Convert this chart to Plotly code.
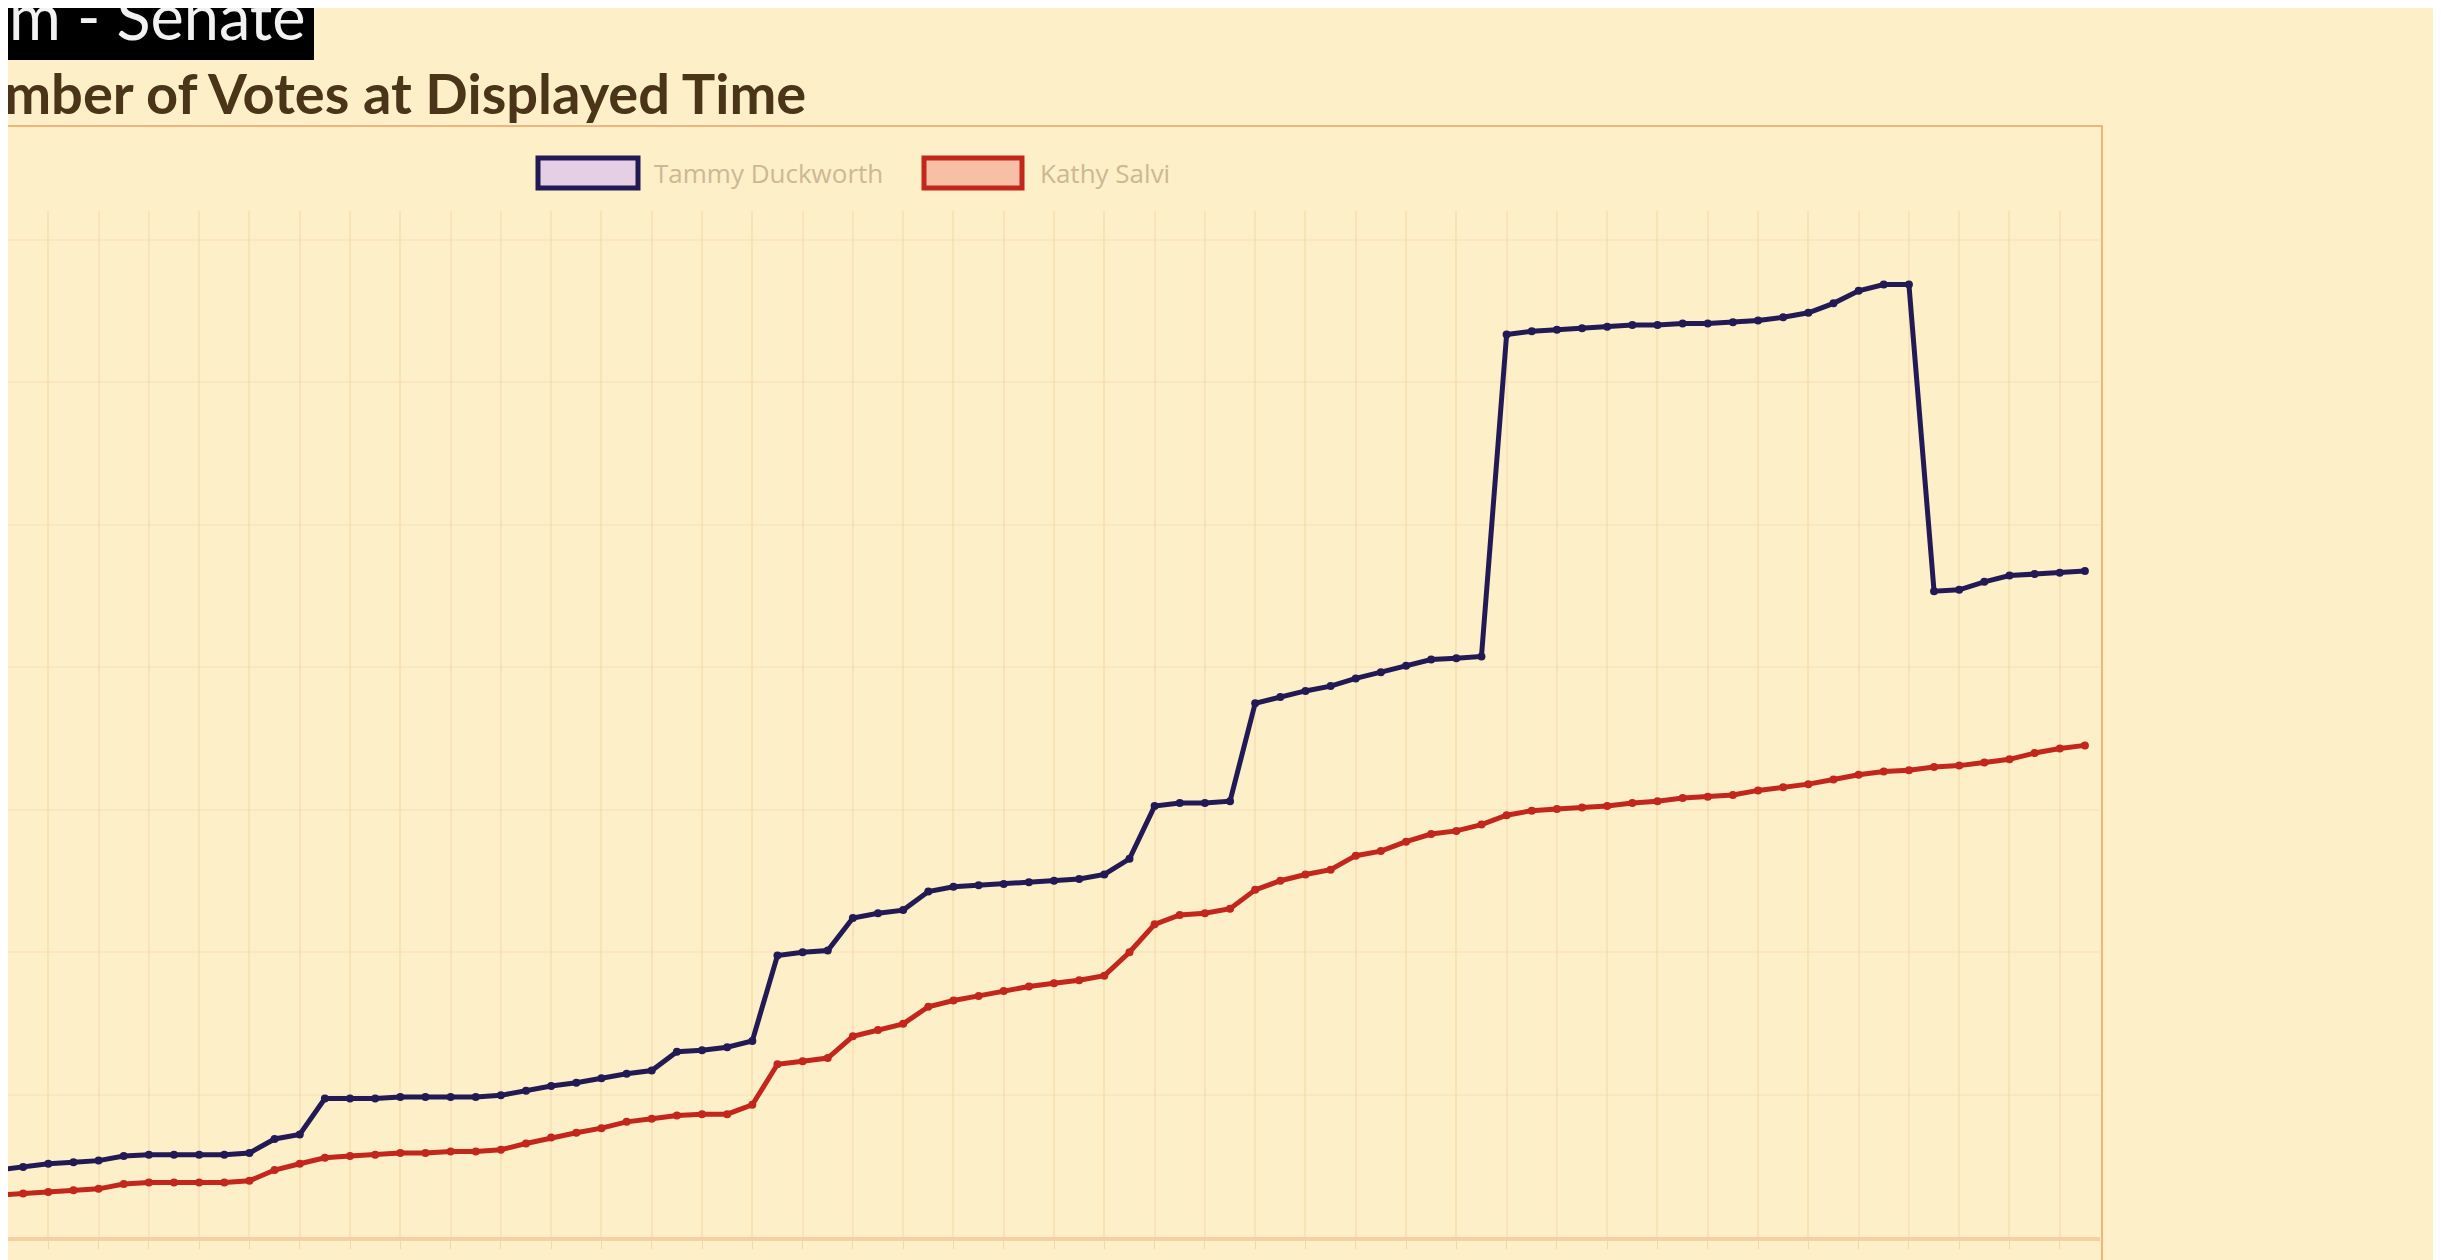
import plotly.graph_objects as go

W, H = 2441, 1260
PLOT_L, PLOT_R, PLOT_T, PLOT_B = 0, 2092, 203, 1229

# reporting times (x categories)
times = [f"{7 + (i * 5) // 60 if 7 + (i * 5) // 60 <= 12 else 7 + (i * 5) // 60 - 12}:{(i * 5) % 60:02d}" for i in range(84)]

duckworth = [
    235000, 246000, 257000, 262000, 268000, 284000, 289000, 289000, 289000, 289000,
    295000, 344000, 360000, 486000, 486000, 486000, 491000, 491000, 491000, 491000,
    497000, 513000, 530000, 541000, 557000, 573000, 584000, 650000, 655000, 666000,
    688000, 988000, 999000, 1005000, 1119000, 1136000, 1147000, 1212000, 1229000, 1234000,
    1239000, 1245000, 1250000, 1256000, 1272000, 1327000, 1512000, 1523000, 1523000, 1529000,
    1873000, 1895000, 1916000, 1933000, 1960000, 1982000, 2004000, 2026000, 2031000, 2037000,
    3167000, 3178000, 3183000, 3189000, 3194000, 3200000, 3200000, 3205000, 3205000, 3210000,
    3216000, 3227000, 3243000, 3276000, 3320000, 3342000, 3342000, 2266000, 2271000, 2299000,
    2321000, 2326000, 2331000, 2337000,
]

salvi = [
    147000, 153000, 158000, 164000, 169000, 186000, 191000, 191000, 191000, 191000,
    197000, 235000, 257000, 278000, 284000, 289000, 295000, 295000, 300000, 300000,
    306000, 328000, 349000, 366000, 382000, 404000, 415000, 426000, 431000, 431000,
    464000, 606000, 617000, 628000, 704000, 726000, 748000, 808000, 830000, 846000,
    863000, 879000, 890000, 901000, 917000, 999000, 1097000, 1130000, 1136000, 1152000,
    1218000, 1250000, 1272000, 1289000, 1338000, 1354000, 1387000, 1414000, 1425000, 1447000,
    1480000, 1496000, 1502000, 1507000, 1512000, 1523000, 1529000, 1540000, 1545000, 1551000,
    1567000, 1578000, 1589000, 1605000, 1622000, 1633000, 1638000, 1649000, 1654000, 1665000,
    1676000, 1698000, 1714000, 1725000,
]

BG = "#fdefc8"
NAVY = "#231a55"
RED = "#c3261c"


def px_x(x):
    return (x - PLOT_L) / (PLOT_R - PLOT_L)


def px_y(y):
    return (PLOT_B - y) / (PLOT_B - PLOT_T)


fig = go.Figure()
fig.add_trace(go.Scatter(
    x=times, y=duckworth, mode="lines+markers", name="Tammy Duckworth",
    line=dict(color=NAVY, width=5),
    marker=dict(color=NAVY, size=8),
))
fig.add_trace(go.Scatter(
    x=times, y=salvi, mode="lines+markers", name="Kathy Salvi",
    line=dict(color=RED, width=5),
    marker=dict(color=RED, size=8),
))

shapes = [
    # canvas border
    dict(type="rect", xref="paper", yref="paper",
         x0=px_x(-20), x1=px_x(2094), y0=px_y(1320), y1=px_y(118),
         line=dict(color="rgba(238,165,105,0.8)", width=2), fillcolor="rgba(0,0,0,0)", layer="below"),
    # black header box
    dict(type="rect", xref="paper", yref="paper",
         x0=px_x(-20), x1=px_x(306), y0=px_y(52), y1=px_y(-10),
         line=dict(width=0), fillcolor="#000000"),
    # legend boxes
    dict(type="rect", xref="paper", yref="paper",
         x0=px_x(530), x1=px_x(630), y0=px_y(180), y1=px_y(150),
         line=dict(color=NAVY, width=5), fillcolor="#e4cfe4"),
    dict(type="rect", xref="paper", yref="paper",
         x0=px_x(916), x1=px_x(1014), y0=px_y(180), y1=px_y(150),
         line=dict(color=RED, width=5), fillcolor="#f7bfa6"),
]

annotations = [
    dict(text="m - Senate", xref="paper", yref="paper", x=px_x(299), y=px_y(8),
         xanchor="right", yanchor="middle", showarrow=False,
         font=dict(family="Lato", size=63, color="#f2f2f2")),
    dict(text="<b>Number of Votes at Displayed Time</b>", xref="paper", yref="paper",
         x=px_x(800), y=px_y(84), xanchor="right", yanchor="middle", showarrow=False,
         font=dict(family="Lato", size=56, color="#4a3518")),
    dict(text="Tammy Duckworth", xref="paper", yref="paper", x=px_x(644), y=px_y(165),
         xanchor="left", yanchor="middle", showarrow=False,
         font=dict(family="Open Sans", size=26, color="#cdb894")),
    dict(text="Kathy Salvi", xref="paper", yref="paper", x=px_x(1030), y=px_y(165),
         xanchor="left", yanchor="middle", showarrow=False,
         font=dict(family="Open Sans", size=26, color="#cdb894")),
]

fig.update_layout(
    width=W, height=H,
    paper_bgcolor=BG, plot_bgcolor=BG,
    margin=dict(l=PLOT_L, r=W - PLOT_R, t=PLOT_T, b=H - PLOT_B, autoexpand=False),
    showlegend=False,
    shapes=shapes,
    annotations=annotations,
    xaxis=dict(
        type="category",
        range=[0.397, 83.6],
        tickmode="array", tickvals=times[::2], ticktext=times[::2],
        tickangle=-60, tickfont=dict(family="Open Sans", size=22, color="#c9a27a"),
        showgrid=True, gridcolor="rgba(236,190,140,0.25)", gridwidth=2,
        showline=True, linecolor="#f6cfa4", linewidth=4,
        ticks="outside", ticklen=8, tickcolor="rgba(236,190,140,0.5)",
        zeroline=False,
    ),
    yaxis=dict(
        range=[0, 3600000], dtick=500000,
        showgrid=True, gridcolor="rgba(236,190,140,0.15)", gridwidth=2,
        showticklabels=False, zeroline=False,
    ),
)

fig.write_html("out.html")
